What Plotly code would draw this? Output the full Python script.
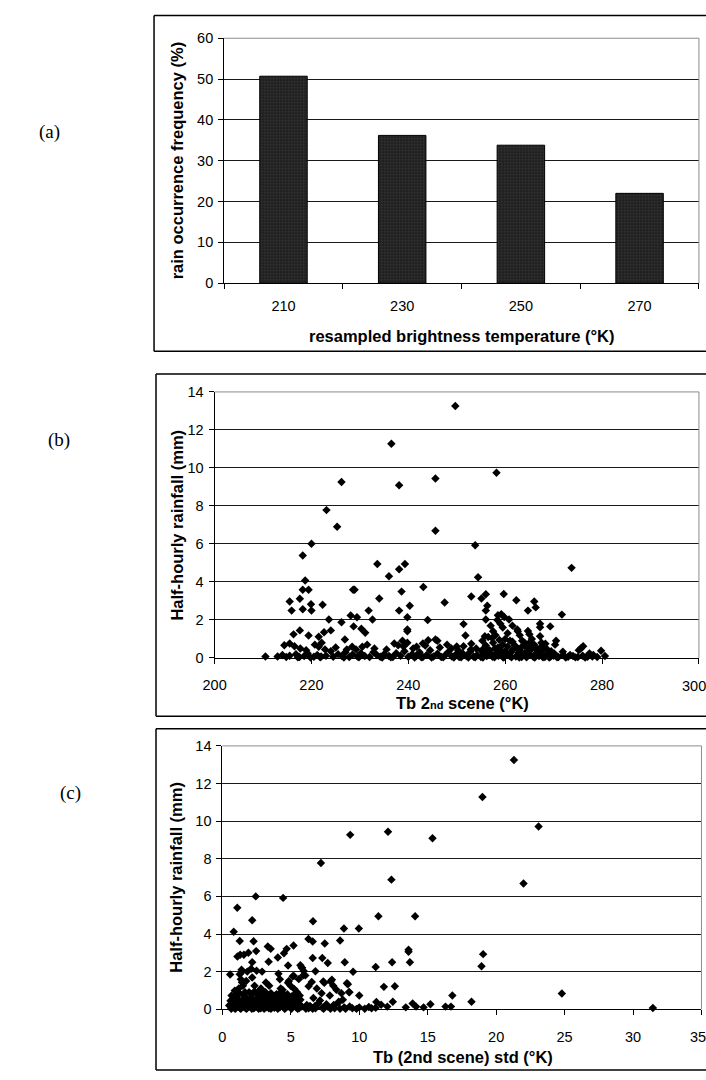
import plotly.graph_objects as go

W, H = 706, 1080

# ---------------- data ----------------
# (a) bar chart
bar_categories = ["210", "230", "250", "270"]
bar_values = [50.7, 36.2, 33.8, 22.0]

# axis tick labels
b_ticks = [200, 220, 240, 260, 280, 300]
c_ticks = [0, 5, 10, 15, 20, 25, 30, 35]

# (b) Tb 2nd scene (K) vs half-hourly rainfall (mm)
b_tb = [249.7, 236.5, 258.2, 245.6, 238.1, 226.2, 223.1, 225.3, 245.6, 220.0, 253.8, 218.2, 273.7, 233.6, 239.3,
        238.1, 236.0, 254.4, 218.7, 218.2, 219.4, 228.6, 228.9, 243.1, 238.6, 256.0, 259.7, 234.0, 253.0, 255.1,
        215.5, 217.6, 262.3, 266.0, 247.5, 219.9, 222.3, 240.3, 256.3, 266.3, 215.9, 218.2, 220.0, 231.8, 238.1,
        256.0, 264.7, 271.7, 228.1, 229.4, 239.8, 223.6, 232.6, 244.0, 256.0, 258.5, 259.2, 259.8, 258.4, 260.8,
        226.2, 267.2, 267.2, 269.3, 251.4, 228.7, 230.3, 239.8, 239.8, 262.5, 262.6, 231.1, 222.6, 264.7, 217.6,
        224.0, 216.3, 219.4, 221.5, 251.8, 255.8, 267.2,
        257.0, 257.5, 258.0, 259.0, 259.5, 260.0, 260.5, 261.0, 257.3, 258.8, 256.5, 261.5, 263.0, 264.0, 265.0,
        265.5, 266.0, 267.5, 270.5, 270.3, 268.3, 263.5,
        244.1, 245.6, 246.0, 243.0, 241.7, 237.1, 238.8, 237.9, 239.8, 239.0,
        218.9, 220.7, 222.1, 221.5, 217.7, 215.5, 214.4, 216.5,
        226.9, 228.4, 229.2, 230.5, 227.3,
        248.9, 250.3, 251.4, 252.9, 254.0, 255.1,
        271.9, 275.2, 276.1, 275.6, 277.4, 278.2, 279.8, 280.6, 273.4, 270.1, 268.6,
        210.5, 213.0, 214.0, 214.8, 215.5, 216.8, 217.5, 218.5, 219.2, 220.5, 221.2, 222.0, 223.0, 224.5, 225.5,
        226.3, 227.0, 227.8, 228.5, 229.5, 230.2, 231.0, 232.0, 232.8, 233.5, 234.2, 235.0, 236.0, 236.8, 237.5,
        238.4, 239.2, 240.0, 240.8, 241.6, 242.3, 243.0, 243.8, 244.5, 245.2, 246.0, 246.8, 247.5, 248.2, 249.0,
        249.8, 250.5, 251.2, 252.0, 252.8, 253.5, 254.2, 255.0, 255.6, 256.2, 256.8, 257.4, 258.0, 258.6, 259.2,
        259.8, 260.4, 261.0, 261.6, 262.2, 262.8, 263.4, 264.0, 264.6, 265.2, 265.8, 266.4, 267.0, 267.6, 268.2,
        268.8, 269.4, 270.0, 271.0, 272.0, 273.0, 274.0, 275.0, 276.0, 277.0, 278.0, 279.0,
        241.0, 243.5, 246.5, 248.0, 250.0, 253.0, 256.0, 257.5, 258.5, 259.5, 260.5, 261.5, 262.5, 263.5, 264.5,
        265.5, 266.5, 267.5, 268.5, 269.5, 233.0, 235.5, 231.5, 225.0, 224.0, 222.8,
        255.3, 256.7, 257.9, 259.0, 260.0, 261.2, 262.0, 263.0, 264.2, 265.0, 266.2, 267.3, 255.8, 257.1, 258.3,
        260.7, 262.6, 264.8, 266.8,
        241.3, 242.7, 244.8, 247.2, 249.4, 250.9, 252.4, 253.8, 255.4, 257.8, 259.6, 261.3, 262.9, 264.4, 266.1,
        267.8, 269.1, 270.7, 272.5, 274.5, 276.5, 236.4, 234.6, 229.8, 226.7, 221.8, 219.8, 217.2]
b_rain = [13.26, 11.27, 9.75, 9.44, 9.09, 9.26, 7.78, 6.90, 6.69, 6.01, 5.93, 5.39, 4.74, 4.94, 4.94,
          4.67, 4.30, 4.25, 4.08, 3.59, 3.59, 3.59, 3.59, 3.73, 3.49, 3.35, 3.37, 3.13, 3.23, 3.13,
          2.97, 3.11, 3.04, 2.97, 2.92, 2.83, 2.80, 2.75, 2.75, 2.66, 2.49, 2.56, 2.49, 2.49, 2.49,
          2.49, 2.49, 2.28, 2.23, 2.14, 2.14, 2.02, 2.02, 2.00, 2.02, 2.25, 2.30, 2.15, 2.00, 2.02,
          1.88, 1.80, 1.62, 1.66, 1.78, 1.66, 1.54, 1.50, 1.40, 1.50, 1.40, 1.33, 1.35, 1.42, 1.45,
          1.45, 1.24, 1.18, 1.12, 1.18, 1.14, 1.14,
          1.70, 1.40, 1.20, 1.80, 1.60, 1.00, 1.30, 0.90, 1.05, 0.95, 1.10, 1.70, 1.20, 0.80, 1.25,
          1.00, 0.70, 0.80, 0.90, 0.70, 0.75, 0.60,
          0.93, 0.97, 0.90, 0.76, 0.59, 0.76, 0.90, 0.67, 0.80, 0.60,
          0.41, 0.70, 0.80, 0.59, 0.50, 0.76, 0.67, 0.62,
          0.97, 0.59, 0.45, 0.59, 0.45,
          0.50, 0.41, 0.62, 0.45, 0.50, 0.38,
          0.33, 0.41, 0.62, 0.50, 0.24, 0.16, 0.38, 0.10, 0.16, 0.24, 0.16,
          0.07, 0.08, 0.15, 0.05, 0.12, 0.20, 0.05, 0.10, 0.25, 0.06, 0.15, 0.08, 0.12, 0.06, 0.20,
          0.10, 0.30, 0.05, 0.18, 0.08, 0.25, 0.10, 0.05, 0.30, 0.15, 0.06, 0.20, 0.10, 0.05, 0.25,
          0.12, 0.35, 0.06, 0.20, 0.10, 0.30, 0.05, 0.15, 0.40, 0.08, 0.22, 0.05, 0.12, 0.30, 0.08,
          0.18, 0.05, 0.25, 0.10, 0.32, 0.06, 0.15, 0.05, 0.25, 0.10, 0.40, 0.06, 0.20, 0.12, 0.35,
          0.05, 0.22, 0.10, 0.45, 0.08, 0.30, 0.05, 0.18, 0.10, 0.40, 0.06, 0.25, 0.10, 0.35, 0.05,
          0.20, 0.08, 0.12, 0.05, 0.15, 0.06, 0.10, 0.05, 0.12, 0.06, 0.08, 0.05,
          0.50, 0.65, 0.55, 0.70, 0.60, 0.75, 0.65, 0.80, 0.55, 0.70, 0.60, 0.85, 0.50, 0.90, 0.55,
          0.70, 0.45, 0.60, 0.50, 0.35, 0.50, 0.45, 0.70, 0.55, 0.35, 0.45,
          0.90, 0.30, 0.50, 0.45, 0.35, 0.30, 0.65, 0.40, 0.30, 0.20, 0.55, 0.30, 0.55, 0.15, 0.30,
          0.15, 0.15, 0.75, 0.15,
          0.02, 0.03, 0.02, 0.03, 0.02, 0.03, 0.02, 0.03, 0.02, 0.03, 0.02, 0.03, 0.02, 0.03, 0.02,
          0.03, 0.02, 0.03, 0.02, 0.03, 0.02, 0.03, 0.02, 0.03, 0.02, 0.03, 0.02, 0.03]

# (c) Tb (2nd scene) std (K) vs half-hourly rainfall (mm)
c_std = [21.3, 19.0, 23.1, 12.1, 9.34, 15.35, 7.2, 12.35, 22.0, 2.44, 4.44, 1.09, 11.4, 14.08, 2.18,
         6.62, 8.88, 9.97, 0.83, 6.29, 6.6, 1.27, 2.28, 8.6, 7.48, 3.32, 3.53, 5.2, 4.7, 13.6,
         13.6, 2.47, 19.05, 4.5, 1.1, 1.3, 1.57, 1.9, 6.6, 7.3, 4.05, 3.38, 2.18, 8.94, 12.4,
         13.7, 7.7, 4.8, 11.2, 18.93, 5.7, 5.8, 0.57, 9.55, 2.9, 2.5, 6.8, 1.4, 1.45, 4.1,
         5.14, 2.18, 8.0, 7.9, 9.1, 4.2, 5.9, 11.8, 12.6, 4.4, 4.8, 6.3, 9.25, 10.0, 16.8,
         24.8, 18.2, 12.45, 11.25, 31.45, 15.2, 13.9, 16.3, 16.7, 14.7, 13.4, 14.15, 11.6, 10.7, 12.05,
         7.37, 7.45, 6.9, 7.25, 8.1, 8.33, 7.85, 8.7, 8.8, 9.17, 9.28, 8.45, 6.65, 6.53, 7.13,
         7.6, 8.13, 6.17, 6.4, 6.77,
         4.86, 4.98, 5.26, 5.46, 5.65, 5.82, 5.94, 6.06, 5.58, 5.22, 5.1,
         1.27, 1.35, 1.43, 1.5, 1.2, 1.74, 1.82, 2.1, 2.35, 2.58, 2.82, 3.07, 3.18, 3.42, 3.66,
         3.9, 4.14, 4.26, 4.5, 0.67, 0.79, 0.91, 1.03,
         0.5, 0.7, 0.8, 0.9, 1.0, 1.1, 1.2, 1.3, 1.4, 1.5, 1.6, 1.7, 1.8, 1.9, 2.0,
         2.1, 2.2, 2.3, 2.4, 2.5, 2.6, 2.7, 2.8, 2.9, 3.0, 3.1, 3.2, 3.3, 3.4, 3.5,
         3.6, 3.7, 3.8, 3.9, 4.0, 4.1, 4.2, 4.3, 4.4, 4.5, 4.6, 4.7, 4.8, 4.9, 5.0,
         5.1, 5.2, 5.3, 5.4, 5.5, 5.6, 5.7, 5.8, 6.3, 6.5, 6.8, 7.0, 7.3, 7.7, 8.2,
         8.5, 8.9, 9.3, 9.5, 10.0, 10.9, 11.2,
         0.6, 1.05, 1.25, 1.55, 1.75, 1.95, 2.15, 2.35, 2.55, 2.75, 2.95, 3.15, 3.35, 3.55, 3.75,
         3.95, 4.15, 4.35, 4.55, 4.75, 4.95, 5.15, 5.35, 5.55, 2.05, 2.45, 2.85, 3.25, 3.65, 4.05,
         4.45, 4.85, 5.25, 1.15, 1.45, 1.85, 0.75, 1.65, 2.25, 3.45, 3.85, 4.25, 5.45, 5.65,
         0.65, 0.95, 1.35, 1.75, 2.15, 2.65, 3.05, 3.55, 4.05, 4.55, 5.05, 5.5, 6.1, 6.6, 7.4,
         7.9, 8.6, 9.0, 9.8, 10.4]
c_rain = [13.25, 11.28, 9.72, 9.44, 9.27, 9.09, 7.78, 6.89, 6.68, 6.00, 5.92, 5.39, 4.94, 4.94, 4.73,
          4.68, 4.29, 4.29, 4.12, 3.73, 3.60, 3.63, 3.61, 3.65, 3.49, 3.33, 3.21, 3.39, 3.21, 3.16,
          3.05, 3.09, 2.93, 2.98, 2.80, 2.90, 2.90, 3.00, 2.72, 2.72, 2.75, 2.53, 2.50, 2.50, 2.50,
          2.50, 2.46, 2.32, 2.25, 2.29, 2.34, 2.20, 1.85, 1.99, 2.00, 2.05, 2.02, 2.10, 2.00, 1.89,
          1.76, 1.69, 1.57, 1.47, 1.38, 1.59, 1.80, 1.19, 1.22, 1.03, 1.41, 1.22, 0.91, 0.73, 0.73,
          0.84, 0.40, 0.40, 0.38, 0.07, 0.26, 0.30, 0.14, 0.14, 0.10, 0.10, 0.14, 0.24, 0.12, 0.14,
          1.47, 1.41, 1.10, 0.85, 1.25, 1.04, 0.73, 0.85, 0.50, 1.33, 0.90, 0.33, 0.60, 1.45, 0.47,
          0.26, 0.22, 0.22, 0.17, 0.17,
          1.50, 1.25, 1.07, 0.90, 0.73, 2.20, 2.03, 1.80, 1.60, 1.77, 0.33,
          1.86, 1.60, 1.43, 1.25, 1.10, 1.50, 2.00, 2.15, 1.25, 0.90, 1.10, 0.85, 1.42, 1.25, 0.73,
          0.57, 0.83, 1.10, 0.57, 0.73, 0.55, 0.99, 0.80,
          0.20, 0.10, 0.30, 0.05, 0.45, 0.15, 0.35, 0.05, 0.25, 0.50, 0.10, 0.30, 0.05, 0.40, 0.15,
          0.60, 0.25, 0.05, 0.45, 0.15, 0.70, 0.30, 0.05, 0.50, 0.20, 0.60, 0.10, 0.35, 0.05, 0.55,
          0.20, 0.40, 0.08, 0.65, 0.25, 0.45, 0.10, 0.55, 0.20, 0.35, 0.05, 0.60, 0.15, 0.40, 0.08,
          0.70, 0.25, 0.45, 0.10, 0.30, 0.05, 0.50, 0.15, 0.05, 0.10, 0.05, 0.30, 0.08, 0.15, 0.05,
          0.40, 0.10, 0.15, 0.05, 0.10, 0.05, 0.08,
          0.45, 0.70, 0.85, 0.75, 0.60, 0.90, 0.80, 0.95, 0.55, 0.85, 0.70, 0.90, 0.75, 0.85, 0.65,
          0.80, 0.70, 0.90, 0.60, 0.80, 0.55, 0.40, 0.80, 0.65, 0.35, 0.25, 0.40, 0.50, 0.30, 0.35,
          0.15, 0.25, 0.20, 0.55, 0.40, 0.20, 0.25, 0.90, 0.50, 0.18, 0.45, 0.30, 0.55, 0.25,
          0.02, 0.03, 0.02, 0.03, 0.02, 0.03, 0.02, 0.03, 0.02, 0.03, 0.02, 0.03, 0.02, 0.03, 0.02,
          0.03, 0.02, 0.03, 0.02, 0.03]

# ---------------- figure ----------------
def px_x(p):
    return p / W

def px_y(p):
    return 1 - p / H

FONT = "Liberation Sans, Arial, sans-serif"
SERIF = "Liberation Serif, Times New Roman, serif"

fig = go.Figure()

fig.add_trace(go.Bar(x=bar_categories, y=bar_values, xaxis="x", yaxis="y",
                     width=0.4,
                     marker=dict(color="#1e1e1e", line=dict(color="#000", width=1),
                                 pattern=dict(shape=".", fgcolor="#4a4a4a", bgcolor="#1e1e1e",
                                              size=3, solidity=0.4)),
                     showlegend=False))
fig.add_trace(go.Scatter(x=b_tb, y=b_rain, xaxis="x2", yaxis="y2", mode="markers", cliponaxis=False,
                         marker=dict(symbol="diamond", size=6.5, color="#000"), showlegend=False))
fig.add_trace(go.Scatter(x=c_std, y=c_rain, xaxis="x3", yaxis="y3", mode="markers", cliponaxis=False,
                         marker=dict(symbol="diamond", size=6.5, color="#000"), showlegend=False))

tickfont = dict(family=FONT, size=14.5, color="#000")
common_x = dict(showgrid=False, showline=True, linecolor="#000", linewidth=1, ticks="outside",
                ticklen=5, tickcolor="#000", tickfont=tickfont, zeroline=False, fixedrange=True,
                ticklabelstandoff=9)
common_y = dict(showgrid=True, gridcolor="#1a1a1a", gridwidth=1, showline=True, linecolor="#000",
                linewidth=1, ticks="outside", ticklen=5, tickcolor="#000", tickfont=tickfont,
                zeroline=False, fixedrange=True, ticklabelstandoff=2)

# plot-area pixel geometry
A = dict(x0=215.8, x1=698.8, y0=30.7, y1=279.3)
B = dict(x0=206.1, x1=698.8, y0=389.7, y1=659.7)
C = dict(x0=214.0, x1=701.4, y0=749.0, y1=1016.3)

def dom(g):
    return [px_x(g["x0"]), px_x(g["x1"])], [px_y(g["y1"]), px_y(g["y0"])]

ax, ay = dom(A)
bx, by = dom(B)
cx, cy = dom(C)

# last tick label of (b) and (c) sits on the page edge: drawn separately below
b_text = [str(v) for v in b_ticks[:-1]] + [""]
c_text = [str(v) for v in c_ticks[:-1]] + [""]

fig.update_layout(
    width=W, height=H, autosize=False,
    margin=dict(l=0, r=0, t=0, b=0),
    paper_bgcolor="white", plot_bgcolor="white",
    showlegend=False,
    xaxis=dict(common_x, domain=ax, anchor="y", type="category", tickson="boundaries",
               categoryorder="array", categoryarray=bar_categories),
    yaxis=dict(common_y, domain=ay, anchor="x", range=[0, 60], dtick=10),
    xaxis2=dict(common_x, domain=bx, anchor="y2", range=[200, 300],
                tickmode="array", tickvals=b_ticks, ticktext=b_text),
    yaxis2=dict(common_y, domain=by, anchor="x2", range=[0, 14], dtick=2),
    xaxis3=dict(common_x, domain=cx, anchor="y3", range=[0, 35],
                tickmode="array", tickvals=c_ticks, ticktext=c_text),
    yaxis3=dict(common_y, domain=cy, anchor="x3", range=[0, 14], dtick=2),
)

shapes = []
# gray plot-area borders (top / right)
for g in (A, B, C):
    shapes.append(dict(type="line", xref="paper", yref="paper",
                       x0=px_x(g["x0"]), x1=px_x(g["x1"]), y0=px_y(g["y0"]), y1=px_y(g["y0"]),
                       line=dict(color="#8c8c8c", width=1)))
    shapes.append(dict(type="line", xref="paper", yref="paper",
                       x0=px_x(g["x1"]), x1=px_x(g["x1"]), y0=px_y(g["y0"]), y1=px_y(g["y1"]),
                       line=dict(color="#8c8c8c", width=1)))
# outer frames (open on the right: they run past the page edge)
for (l, t, b) in ((144.5, 7.5, 348.5), (146.5, 371.5, 719.0), (146.5, 731.5, 1078.0)):
    frame = dict(color="#000", width=1.5)
    shapes.append(dict(type="line", xref="paper", yref="paper",
                       x0=px_x(l), x1=1, y0=px_y(t), y1=px_y(t), line=frame))
    shapes.append(dict(type="line", xref="paper", yref="paper",
                       x0=px_x(l), x1=1, y0=px_y(b), y1=px_y(b), line=frame))
    shapes.append(dict(type="line", xref="paper", yref="paper",
                       x0=px_x(l), x1=px_x(l), y0=px_y(b), y1=px_y(t), line=frame))
fig.update_layout(shapes=shapes)

title_font = dict(family=FONT, size=16.5, color="#000")
ann = []
def text(x, y, s, font, angle=0, xanchor="center"):
    ann.append(dict(x=px_x(x), y=px_y(y), xref="paper", yref="paper", text=s, showarrow=False,
                    font=font, textangle=angle, xanchor=xanchor, yanchor="middle"))

text(457.3, 332.5, "<b>resampled brightness temperature (°K)</b>", title_font)
text(167.5, (A["y0"] + A["y1"]) / 2, "<b>rain occurrence frequency (%)</b>", title_font, -90)
text(458.0, 705.0, "<b>Tb 2<span style='font-size:11px'>nd</span> scene (°K)</b>", title_font)
text(167.5, (B["y0"] + B["y1"]) / 2, "<b>Half-hourly rainfall (mm)</b>", title_font, -90)
text(458.8, 1065.0, "<b>Tb (2nd scene) std (°K)</b>", title_font)
text(166.0, (C["y0"] + C["y1"]) / 2, "<b>Half-hourly rainfall (mm)</b>", title_font, -90)

# edge tick labels, kept inside the page
ann.append(dict(x=1, y=px_y(B["y1"] + 28.5), xref="paper", yref="paper", text=str(b_ticks[-1]),
                showarrow=False, font=tickfont, xanchor="right", yanchor="middle", borderpad=0, xshift=1))
ann.append(dict(x=1, y=px_y(C["y1"] + 28.5), xref="paper", yref="paper", text=str(c_ticks[-1]),
                showarrow=False, font=tickfont, xanchor="right", yanchor="middle", borderpad=0, xshift=1))

label_font = dict(family=SERIF, size=19, color="#000")
text(38, 126, "(a)", label_font)
text(48, 438, "(b)", label_font)
text(60, 797, "(c)", label_font)

fig.update_layout(annotations=ann)

post = (
    "document.documentElement.style.overflow='hidden';"
    "document.body.style.margin='0';document.body.style.padding='0';"
    "document.body.style.overflow='hidden';"
)
fig.write_html("out.html", config={"displayModeBar": False}, post_script=post)
